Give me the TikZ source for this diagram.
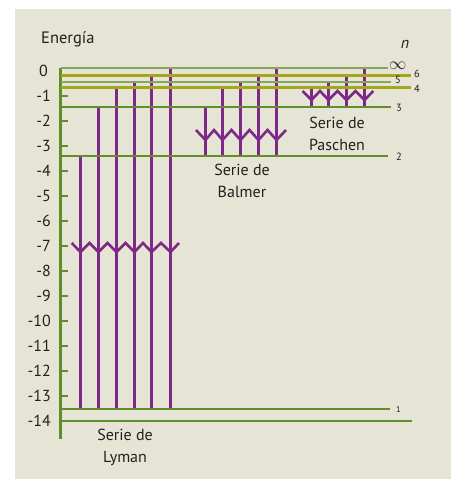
\documentclass[tikz,border=0pt]{standalone}
\usepackage{fontspec}
\setmainfont{PT Sans}
\definecolor{bgbeige}{RGB}{230,228,212}
\definecolor{lvgreen}{RGB}{96,142,44}
\definecolor{lvlight}{RGB}{132,168,94}
\definecolor{lvolive}{RGB}{164,166,28}
\definecolor{trpurple}{RGB}{126,40,138}
\definecolor{txtgray}{RGB}{35,31,32}
\begin{document}
\begin{tikzpicture}[x=1pt,y=-1pt,
  levelthick/.style={draw=lvgreen,line width=2pt},
  levelthin/.style={draw=lvlight,line width=2pt},
  levelolive/.style={draw=lvolive,line width=3pt},
  transline/.style={draw=trpurple,line width=3pt},
  chev/.style={draw=trpurple,line width=2.6pt,line join=miter},
  ticklab/.style={anchor=east,text=txtgray,font=\fontsize{16}{18}\selectfont,inner sep=0pt},
  lvlab/.style={anchor=west,text=txtgray,font=\fontsize{10.5}{12}\selectfont,inner sep=0pt},
  serie/.style={align=center,text=txtgray,font=\fontsize{16}{22}\selectfont,inner sep=0pt}
]
\useasboundingbox (0,0) rectangle (451,479);
\fill[bgbeige] (15,9) rectangle (451,479);

% axis
\draw[draw=lvgreen,line width=3pt] (60.5,68) -- (60.5,439);
\foreach \e in {1,...,13} \draw[draw=lvgreen,line width=2pt] (60.5,71+25*\e) -- (67.5,71+25*\e);
\node[ticklab] (t0) at (48,71) {0};
\foreach \e in {1,...,14} \node[ticklab] (t\e) at (51,71+25*\e) {-\e};
\node[anchor=west,text=txtgray,font=\fontsize{16.5}{18}\selectfont,inner sep=0pt] (energia) at (41,39) {Energía};
\node[text=txtgray,font=\fontsize{16}{18}\itshape\selectfont,inner sep=0pt] (nlab) at (405,44) {n};

% level coordinates
\coordinate (Linf) at (60.5,68);    \coordinate (Rinf) at (388,68);
\coordinate (L6) at (60.5,75.5);    \coordinate (R6) at (411,75.5);
\coordinate (L5) at (60.5,82);      \coordinate (R5) at (391,82);
\coordinate (L4) at (60.5,87.5);    \coordinate (R4) at (411,87.5);
\coordinate (L3) at (60.5,107);     \coordinate (R3) at (391,107);
\coordinate (L2) at (60.5,156);     \coordinate (R2) at (388,156);
\coordinate (L1) at (60.5,409);     \coordinate (R1) at (390,409);
\coordinate (Lb) at (60.5,421);     \coordinate (Rb) at (412,421);

% Lyman
\foreach \x/\t in {80.5/156, 98.5/107, 116.5/87.5, 134.5/82, 151.5/75.5, 170.5/68}
  \draw[transline] (\x,\t) -- (\x,408);
\draw[chev] (71.7,243) -- (80.5,252) -- (89.5,243) -- (98.5,252) -- (107.5,243) -- (116.5,252) -- (125.5,243) -- (134.5,252) -- (143,243) -- (151.5,252) -- (161,243) -- (170.5,252) -- (179,243);

% Balmer
\foreach \x/\t in {205.5/107, 222.5/87.5, 240.5/82, 258.5/75.5, 276.5/68}
  \draw[transline] (\x,\t) -- (\x,155.5);
\draw[chev] (196,130) -- (205.5,140) -- (214,130) -- (222.5,140) -- (231.5,130) -- (240.5,140) -- (249.5,130) -- (258.5,140) -- (267.5,130) -- (276.5,140) -- (286,130);

% Paschen
\foreach \x/\t in {311.5/87.5, 328.5/82, 346.5/75.5, 364.5/68}
  \draw[transline] (\x,\t) -- (\x,106.5);
\draw[chev] (302.5,91) -- (311.5,100) -- (320,91) -- (328.5,100) -- (337.5,91) -- (346.5,100) -- (355.5,91) -- (364.5,100) -- (373.3,91);

% levels on top
\draw[levelthin] (Linf) -- (Rinf);
\draw[levelthin] (L5) -- (R5);
\draw[levelolive] (L6) -- (R6);
\draw[levelolive] (L4) -- (R4);
\draw[levelthick] (L3) -- (R3);
\draw[levelthick] (L2) -- (R2);
\draw[levelthick] (L1) -- (R1);
\draw[levelthick] (Lb) -- (Rb);

\node[anchor=west,text=txtgray,font=\fontsize{17}{18}\selectfont,inner sep=0pt] (ninf) at (389,66) {$\infty$};
\node[lvlab] (n6) at (414,74) {6};
\node[lvlab] (n5) at (395,80) {5};
\node[lvlab] (n4) at (414,89) {4};
\node[lvlab] (n3) at (396,107.5) {3};
\node[lvlab] (n2) at (396,157) {2};
\node[lvlab,font=\fontsize{8.5}{10}\selectfont] (n1) at (396,409) {1};

\node[serie] (paschen) at (337,133.5) {Serie de\\Paschen};
\node[serie] (balmer) at (242,181) {Serie de\\Balmer};
\node[serie] (lyman) at (125,447) {Serie de\\Lyman};
\end{tikzpicture}
\end{document}
